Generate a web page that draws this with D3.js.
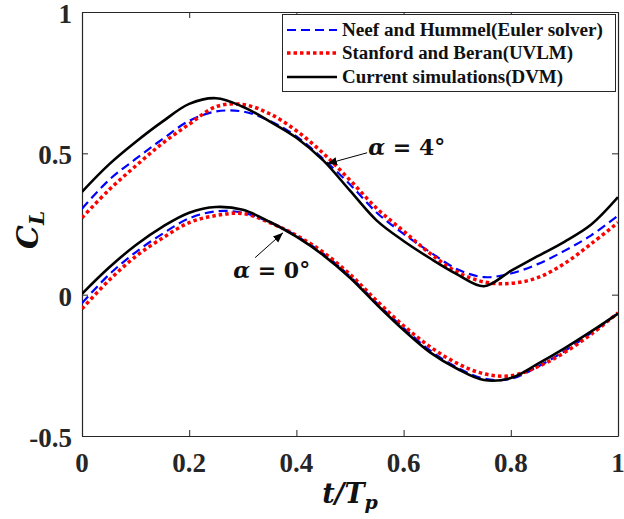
<!DOCTYPE html>
<html>
<head>
<meta charset="utf-8">
<script src="https://cdn.jsdelivr.net/npm/d3@7"></script>
<style>
  body { margin: 0; background: #fff; }
  svg { display: block; }
</style>
</head>
<body>
<svg id="chart"></svg>
<script>
// sample times (t/Tp) shared by every series
const tValues = [0, 0.05, 0.1, 0.15, 0.2, 0.25, 0.3, 0.35, 0.4, 0.45, 0.5,
  0.55, 0.6, 0.65, 0.7, 0.75, 0.8, 0.85, 0.9, 0.95, 1];

// alpha = 4 deg
const eulerA4 = [0.304, 0.405, 0.48, 0.55, 0.615, 0.648, 0.648, 0.615, 0.56, 0.48, 0.39,
  0.29, 0.215, 0.15, 0.09, 0.062, 0.075, 0.108, 0.155, 0.21, 0.28];
const uvlmA4 = [0.272, 0.37, 0.455, 0.535, 0.603, 0.665, 0.673, 0.64, 0.58, 0.5, 0.405,
  0.305, 0.225, 0.145, 0.08, 0.045, 0.04, 0.06, 0.11, 0.18, 0.255];
const dvmA4 = [0.364, 0.46, 0.54, 0.612, 0.675, 0.695, 0.665, 0.613, 0.555, 0.475, 0.368,
  0.262, 0.19, 0.128, 0.072, 0.03, 0.084, 0.136, 0.187, 0.248, 0.345];

// alpha = 0 deg
const eulerA0 = [-0.03, 0.07, 0.15, 0.215, 0.27, 0.295, 0.29, 0.257, 0.208, 0.145, 0.065,
  -0.03, -0.118, -0.198, -0.258, -0.297, -0.298, -0.255, -0.2, -0.135, -0.065];
const uvlmA0 = [-0.05, 0.05, 0.135, 0.2, 0.255, 0.28, 0.287, 0.255, 0.21, 0.15, 0.072,
  -0.022, -0.11, -0.185, -0.243, -0.28, -0.287, -0.255, -0.205, -0.14, -0.064];
const dvmA0 = [0.003, 0.095, 0.175, 0.24, 0.29, 0.31, 0.3, 0.258, 0.205, 0.14, 0.06,
  -0.035, -0.125, -0.205, -0.262, -0.302, -0.295, -0.245, -0.19, -0.13, -0.067];

const xTicks = [0, 0.2, 0.4, 0.6, 0.8, 1];
const yTicks = [-0.5, 0, 0.5, 1];
const yTickLabels = ["-0.5", "0", "0.5", "1"];

const legendLabels = ["Neef and Hummel(Euler solver)", "Stanford and Beran(UVLM)", "Current simulations(DVM)"];

// annotation arrows and labels, in data units (t/Tp, CL)
const annotations = [
  { tail: [0.532, 0.502], tip: [0.457, 0.463], text: [0.534, 0.495], angle: "4°" },
  { tail: [0.323, 0.131], tip: [0.375, 0.219], text: [0.282, 0.06], angle: "0°" }
];

const width = 624, height = 519;
const margin = { top: 12, right: 6, bottom: 83, left: 82 };

const svg = d3.select("#chart").attr("width", width).attr("height", height);

const x = d3.scaleLinear().domain([0, 1]).range([margin.left, width - margin.right]);
const y = d3.scaleLinear().domain([-0.5, 1]).range([height - margin.bottom, margin.top]);

const axisColor = "#262626";
const tickFont = "'Liberation Serif', 'Times New Roman', serif";
const mathFont = "'DejaVu Serif', serif";

svg.append("defs").append("clipPath").attr("id", "plot-clip")
  .append("rect")
  .attr("x", x(0)).attr("y", y(1))
  .attr("width", x(1) - x(0)).attr("height", y(-0.5) - y(1));

// frame ticks (inward on all four sides)
const tickLen = 6;
const axes = [
  { axis: d3.axisBottom(x), tr: `translate(0,${y(-0.5)})`, vals: xTicks },
  { axis: d3.axisTop(x), tr: `translate(0,${y(1)})`, vals: xTicks },
  { axis: d3.axisLeft(y), tr: `translate(${x(0)},0)`, vals: yTicks },
  { axis: d3.axisRight(y), tr: `translate(${x(1)},0)`, vals: yTicks }
];
axes.forEach((a) => {
  const g = svg.append("g")
    .attr("transform", a.tr)
    .call(a.axis.tickValues(a.vals).tickSizeInner(-tickLen).tickSizeOuter(0).tickFormat(""));
  g.select(".domain").attr("stroke", axisColor).attr("stroke-width", 1.2);
  g.selectAll(".tick line").attr("stroke", axisColor).attr("stroke-width", 1);
});

// tick labels
svg.append("g").selectAll("text")
  .data(xTicks)
  .enter()
  .append("text")
  .attr("x", (d) => x(d))
  .attr("y", y(-0.5) + 36)
  .attr("text-anchor", "middle")
  .attr("font-family", tickFont)
  .attr("font-weight", "bold")
  .attr("font-size", 27)
  .attr("fill", axisColor)
  .text((d) => d3.format("")(d));

svg.append("g").selectAll("text")
  .data(yTicks)
  .enter()
  .append("text")
  .attr("x", x(0) - 10)
  .attr("y", (d) => y(d) + 11)
  .attr("text-anchor", "end")
  .attr("font-family", tickFont)
  .attr("font-weight", "bold")
  .attr("font-size", 27)
  .attr("fill", axisColor)
  .text((d, i) => yTickLabels[i]);

// axis titles
const xTitle = svg.append("text")
  .attr("x", (x(0) + x(1)) / 2)
  .attr("y", 503)
  .attr("text-anchor", "middle")
  .attr("font-family", mathFont)
  .attr("font-weight", "bold")
  .attr("font-style", "italic")
  .attr("font-size", 27)
  .attr("fill", "#111");
xTitle.append("tspan").text("t/T");
xTitle.append("tspan").attr("font-size", 19).attr("dy", 6).text("p");

const yTitle = svg.append("text")
  .attr("transform", `translate(38,${(y(1) + y(-0.5)) / 2 + 6}) rotate(-90)`)
  .attr("text-anchor", "middle")
  .attr("font-family", mathFont)
  .attr("font-weight", "bold")
  .attr("font-style", "italic")
  .attr("font-size", 30)
  .attr("fill", "#111");
yTitle.append("tspan").text("C");
yTitle.append("tspan").attr("font-size", 20).attr("dy", 6).text("L");

// curves
const series = [
  { values: eulerA4, color: "#0000ff", dash: "9,5", w: 2.2 },
  { values: eulerA0, color: "#0000ff", dash: "9,5", w: 2.2 },
  { values: uvlmA4, color: "#ff0000", dash: "3.5,3", w: 3.5 },
  { values: uvlmA0, color: "#ff0000", dash: "3.5,3", w: 3.5 },
  { values: dvmA4, color: "#000000", dash: null, w: 2.6 },
  { values: dvmA0, color: "#000000", dash: null, w: 2.6 }
];

const line = d3.line()
  .x((d) => x(d[0]))
  .y((d) => y(d[1]))
  .curve(d3.curveCatmullRom.alpha(0.5));

svg.append("g")
  .attr("clip-path", "url(#plot-clip)")
  .selectAll("path")
  .data(series)
  .enter()
  .append("path")
  .attr("d", (d) => line(tValues.map((t, i) => [t, d.values[i]])))
  .attr("fill", "none")
  .attr("stroke", (d) => d.color)
  .attr("stroke-width", (d) => d.w)
  .attr("stroke-dasharray", (d) => d.dash);

// annotations
svg.append("defs").append("marker")
  .attr("id", "arrow")
  .attr("viewBox", "0 0 10 10")
  .attr("refX", 10).attr("refY", 5)
  .attr("markerWidth", 10).attr("markerHeight", 10)
  .attr("markerUnits", "userSpaceOnUse")
  .attr("orient", "auto")
  .append("path")
  .attr("d", "M0,1 L10,5 L0,9 Z")
  .attr("fill", "#000");

annotations.forEach((a) => {
  svg.append("line")
    .attr("x1", x(a.tail[0])).attr("y1", y(a.tail[1]))
    .attr("x2", x(a.tip[0])).attr("y2", y(a.tip[1]))
    .attr("stroke", "#000")
    .attr("stroke-width", 1)
    .attr("marker-end", "url(#arrow)");
  const t = svg.append("text")
    .attr("x", x(a.text[0]))
    .attr("y", y(a.text[1]))
    .attr("font-family", mathFont)
    .attr("font-weight", "bold")
    .attr("font-size", 22)
    .attr("fill", "#111");
  t.append("tspan").attr("font-style", "italic").text("α");
  t.append("tspan").text(" = " + a.angle);
});

// legend
const legend = svg.append("g");
legend.append("rect")
  .attr("x", 282.5).attr("y", 14.5)
  .attr("width", 333).attr("height", 77)
  .attr("fill", "#fff")
  .attr("stroke", axisColor)
  .attr("stroke-width", 1);

const legendRows = legend.selectAll("g.row")
  .data(legendLabels)
  .enter()
  .append("g")
  .attr("class", "row")
  .attr("transform", (d, i) => `translate(0,${[30, 53, 77][i]})`);

const legendStyles = [series[0], series[2], series[4]];
legendRows.append("line")
  .attr("x1", 287).attr("x2", 337)
  .attr("y1", 0).attr("y2", 0)
  .attr("stroke", (d, i) => legendStyles[i].color)
  .attr("stroke-width", (d, i) => legendStyles[i].w)
  .attr("stroke-dasharray", (d, i) => legendStyles[i].dash);

legendRows.append("text")
  .attr("x", 342)
  .attr("y", 6)
  .attr("font-family", tickFont)
  .attr("font-weight", "bold")
  .attr("font-size", 18)
  .attr("fill", "#111")
  .attr("textLength", (d, i) => [261, 231, 221][i])
  .attr("lengthAdjust", "spacingAndGlyphs")
  .text((d) => d);
</script>
</body>
</html>
